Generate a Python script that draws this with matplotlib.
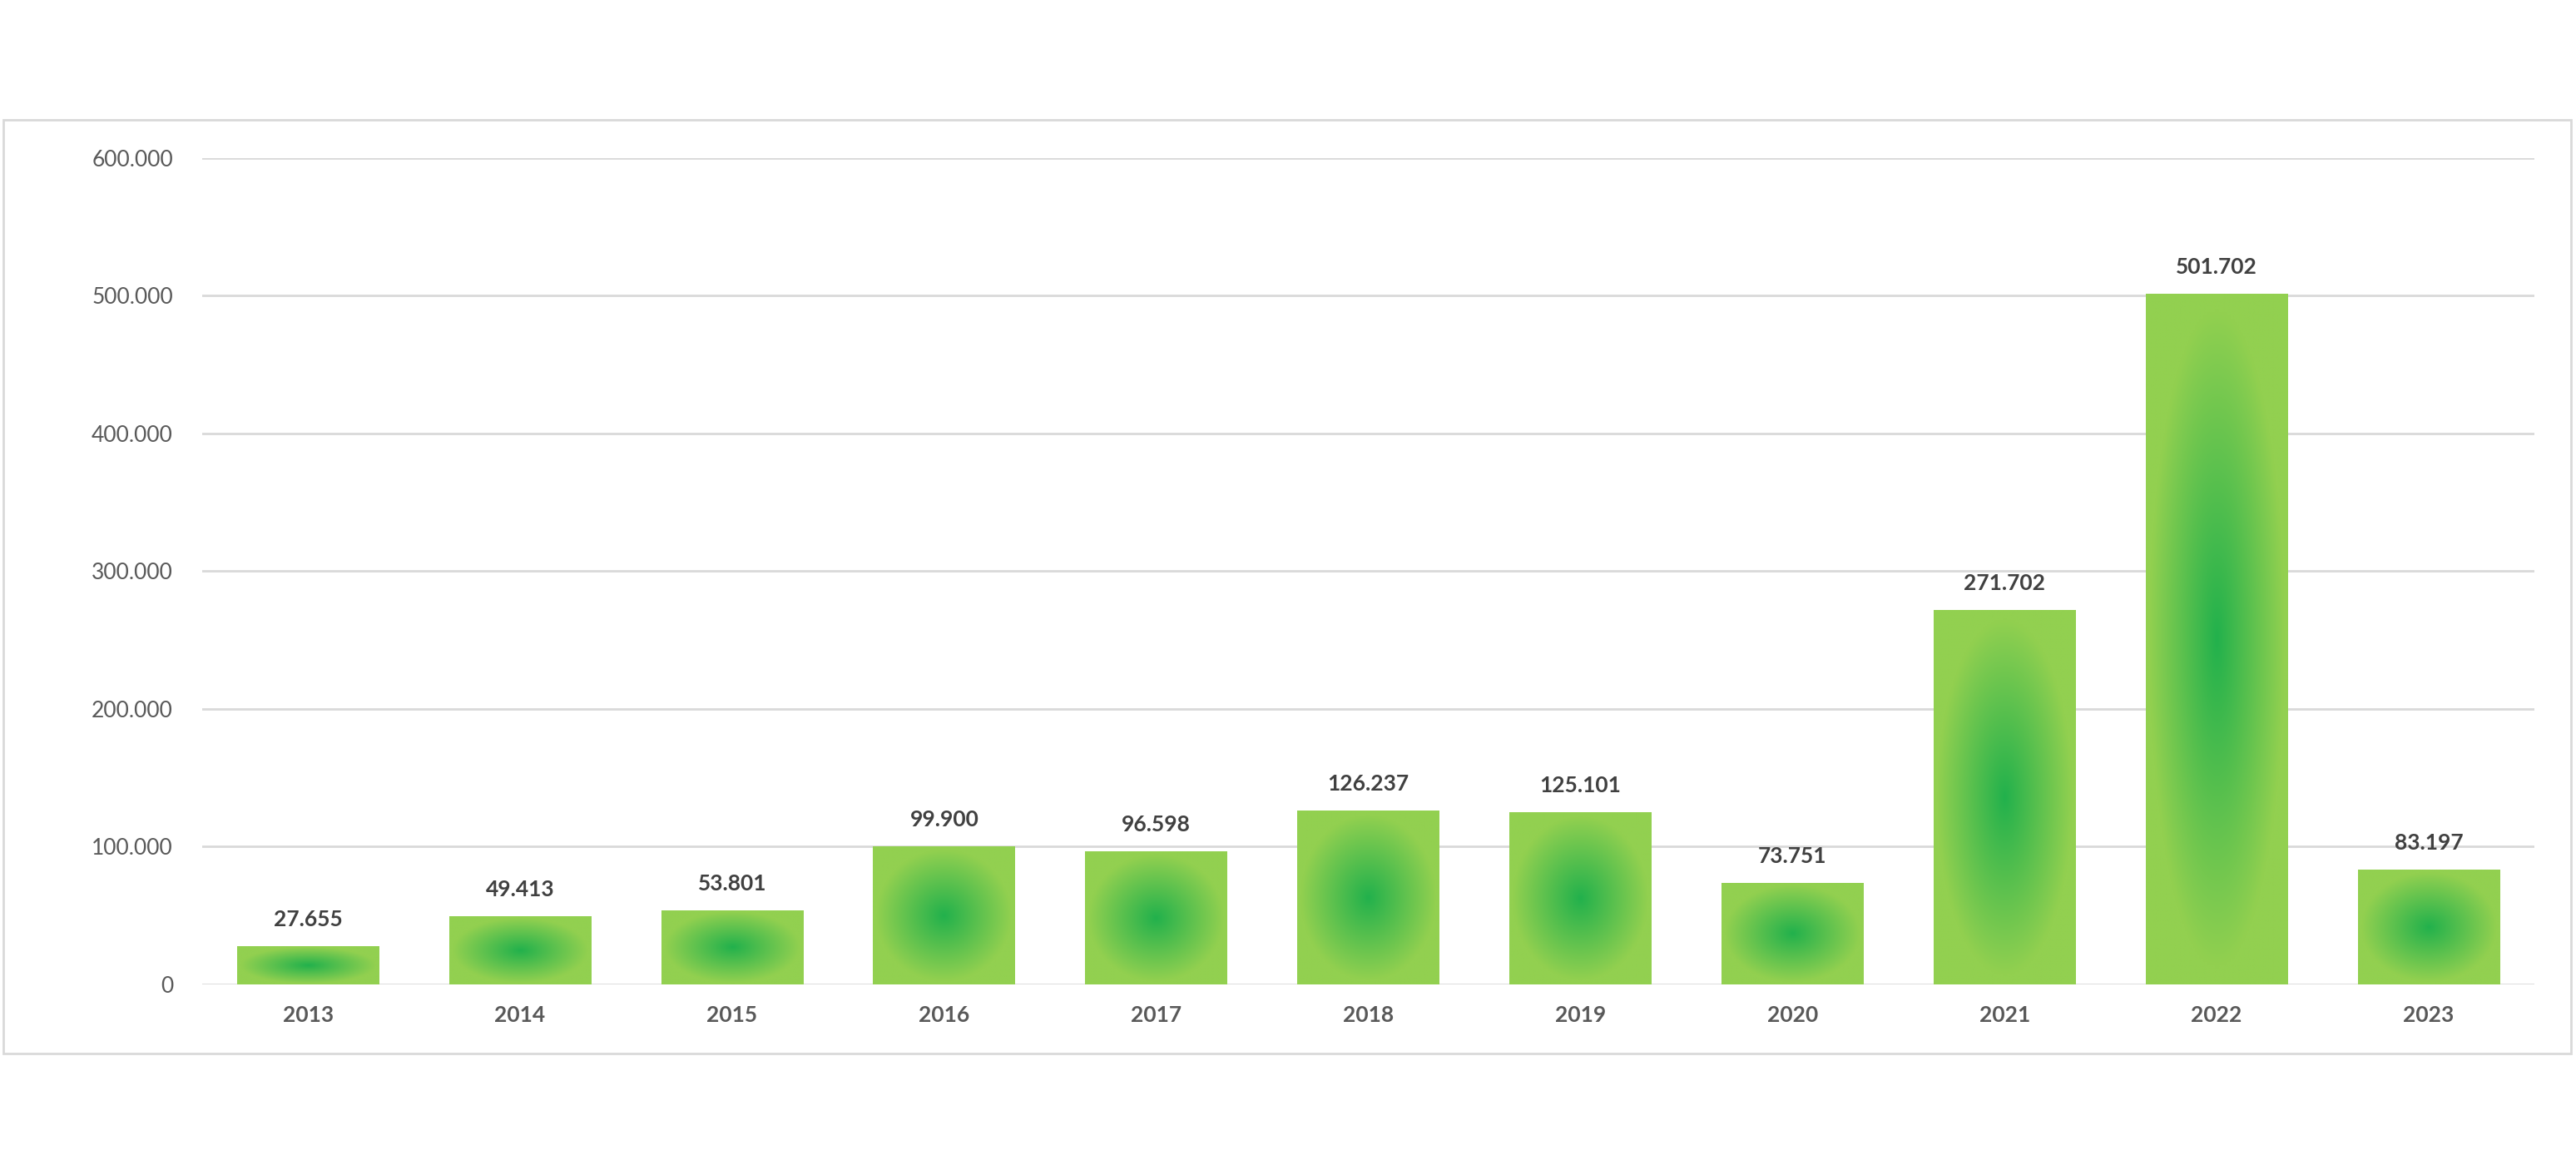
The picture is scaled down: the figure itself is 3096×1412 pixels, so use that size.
import matplotlib
matplotlib.use("Agg")
import matplotlib.pyplot as plt
import numpy as np
from matplotlib.patches import Rectangle

years = ["2013","2014","2015","2016","2017","2018","2019","2020","2021","2022","2023"]
values = [27655, 49413, 53801, 99900, 96598, 126237, 125101, 73751, 271702, 501702, 83197]
yticks = [0, 100000, 200000, 300000, 400000, 500000, 600000]

def fmt(v):
    return f"{v:,}".replace(",", ".")

fig = plt.figure(figsize=(30.96, 14.12), dpi=100)
fig.patches.append(Rectangle((0.0013, 0.1036), 0.9967, 0.7942, transform=fig.transFigure,
                             fill=False, edgecolor="#D9D9D9", linewidth=2))
ax = fig.add_axes([0.0784, 0.1625, 0.9056, 0.703])
ax.set_xlim(-0.5, len(years) - 0.5)
ax.set_ylim(0, 600000)
for s in ax.spines.values():
    s.set_visible(False)
for t in yticks:
    ax.axhline(t, color="#D9D9D9", lw=2, zorder=0)

dark = np.array([0x22, 0xB1, 0x4C]) / 255
light = np.array([0x92, 0xD0, 0x50]) / 255
w = 0.67
n = 200
yy, xx = np.mgrid[-1:1:n*1j, -1:1:n*1j]
d = np.sqrt(xx**2 + yy**2)
t = np.clip(d / 0.95, 0, 1)[..., None]
img = dark * (1 - t) + light * t
for i, v in enumerate(values):
    ext = (i - w/2, i + w/2, 0, v)
    im = ax.imshow(img, extent=ext, aspect="auto", zorder=2, interpolation="bilinear")
    r = Rectangle((i - w/2, 0), w, v, transform=ax.transData, fill=False, lw=0)
    ax.add_patch(r)
    im.set_clip_path(r)
    ax.text(i, v + 12000, fmt(v), ha="center", va="bottom", fontsize=19,
            fontweight="bold", color="#404040", family="Lato")

ax.set_xticks(range(len(years)))
ax.set_xticklabels(years, fontsize=19, fontweight="bold", color="#595959", family="Lato")
ax.set_yticks(yticks)
ax.set_yticklabels([fmt(v) for v in yticks], fontsize=19, color="#595959", family="Lato")
ax.tick_params(length=0, pad=18)
ax.tick_params(axis="y", pad=25)
fig.savefig("out.png", dpi=100, facecolor="white")
